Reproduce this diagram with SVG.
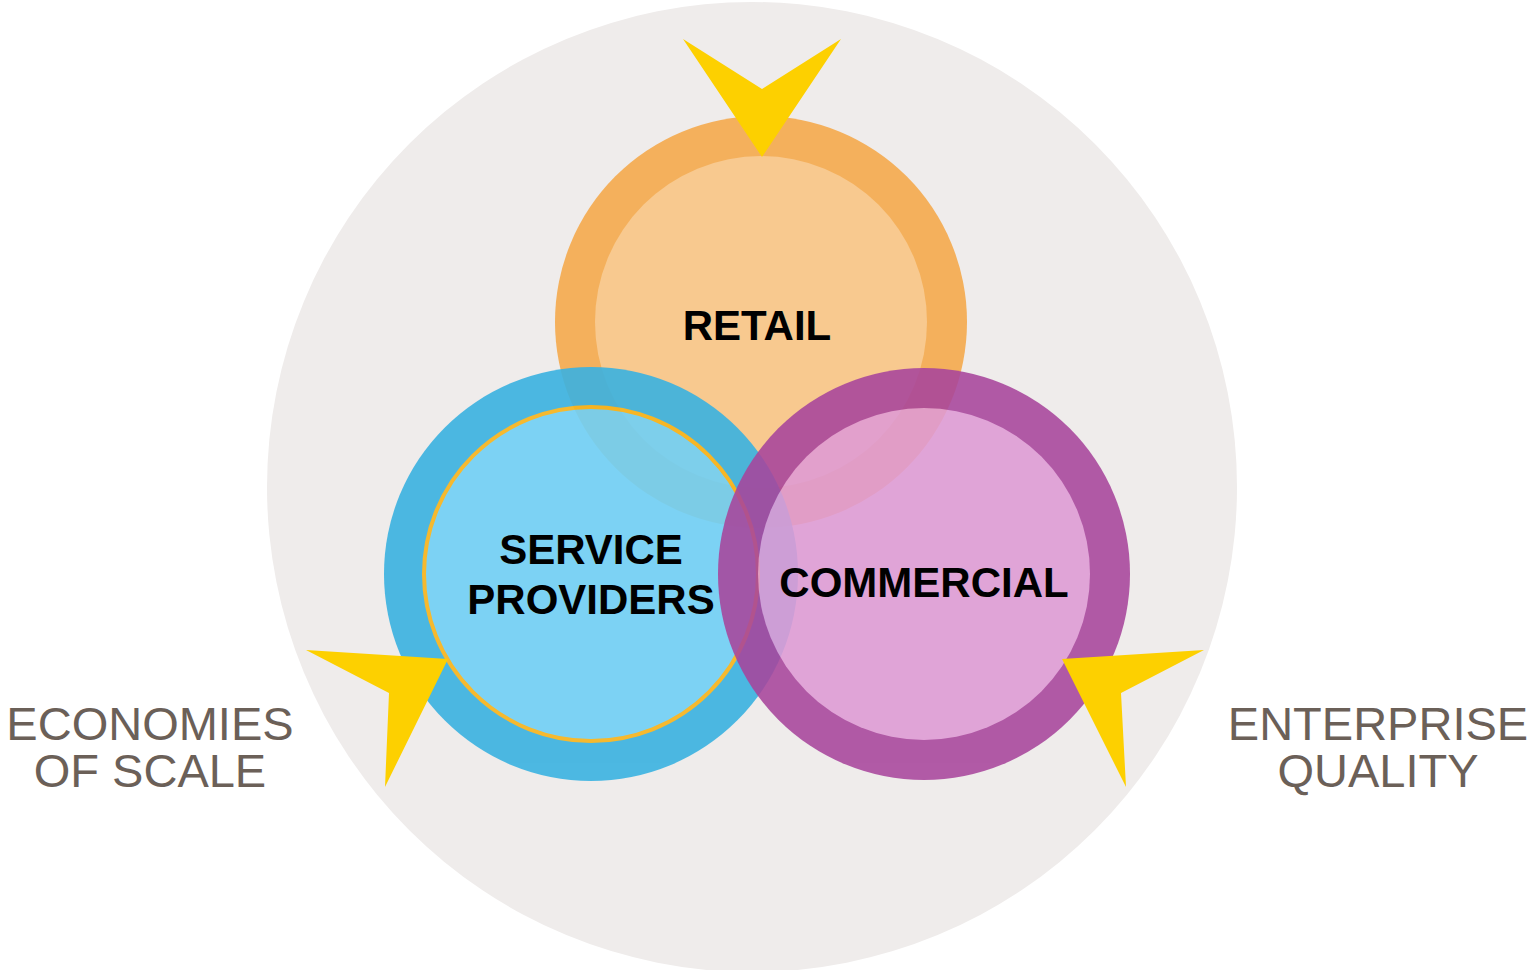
<svg xmlns="http://www.w3.org/2000/svg" width="1532" height="970" viewBox="0 0 1532 970">
<style>
.lbl{font-family:"Liberation Sans",Arial,sans-serif;font-weight:bold;font-size:42px;fill:#000;text-anchor:middle}
.side{font-family:"Liberation Sans",Arial,sans-serif;font-size:47px;fill:#6B6058;text-anchor:middle}
.arrow{fill:#FDD000}
</style>
<rect width="1532" height="970" fill="#FFFFFF"/>
<circle cx="752" cy="487" r="485" fill="#EFECEB"/>
<g id="retail">
<circle cx="761" cy="322" r="206" fill="#F4B05C"/>
<circle cx="761" cy="322" r="166" fill="#F8C98F"/>
</g>
<g id="service-providers" opacity="0.9">
<circle cx="591" cy="574" r="207" fill="#3AB2E1"/>
<circle cx="591" cy="574" r="167" fill="#70D0F6" stroke="#F7B41A" stroke-width="4"/>
</g>
<g id="commercial" opacity="0.88">
<circle cx="924" cy="574" r="206" fill="#A8459C"/>
<circle cx="924" cy="574" r="166" fill="#DF9BD5"/>
</g>
<g id="labels">
<text class="lbl" x="757" y="340">RETAIL</text>
<text class="lbl" x="591" y="564">SERVICE</text>
<text class="lbl" x="591" y="614">PROVIDERS</text>
<text class="lbl" x="924" y="597">COMMERCIAL</text>
</g>
<g id="connectors">
<polygon class="arrow" points="683,39 762,89 841,39 762,157"/>
<polygon class="arrow" points="306,650 448,659 385,787 389,693"/>
<polygon class="arrow" points="1204,650 1062,659 1126,787 1121,693"/>
</g>
<g id="economies-of-scale">
<text class="side" x="150" y="740">ECONOMIES</text>
<text class="side" x="150" y="787">OF SCALE</text>
</g>
<g id="enterprise-quality">
<text class="side" x="1378" y="740">ENTERPRISE</text>
<text class="side" x="1378" y="787">QUALITY</text>
</g>
</svg>
